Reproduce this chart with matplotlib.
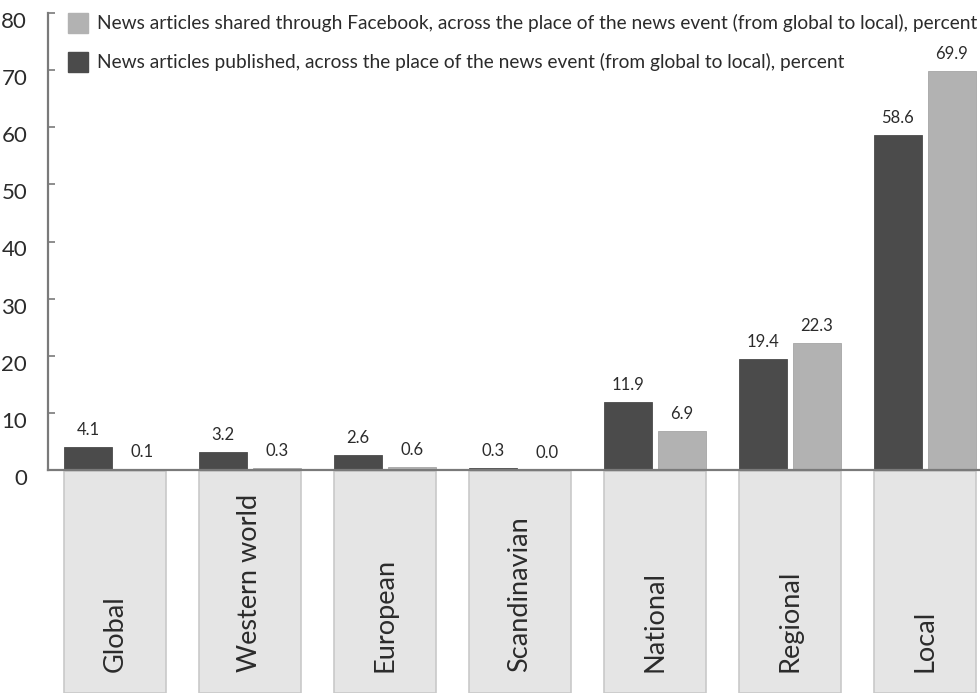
import matplotlib
matplotlib.use("Agg")
import matplotlib.pyplot as plt
from matplotlib.patches import Rectangle
from matplotlib.transforms import blended_transform_factory, ScaledTranslation
import numpy as np

plt.rcParams['font.family'] = ['Lato', 'DejaVu Sans']

categories = ["Global", "Western world", "European", "Scandinavian", "National", "Regional", "Local"]
published = [4.1, 3.2, 2.6, 0.3, 11.9, 19.4, 58.6]
shared = [0.1, 0.3, 0.6, 0.0, 6.9, 22.3, 69.9]
yticks = [0, 10, 20, 30, 40, 50, 60, 70, 80]
label_published = "News articles published, across the place of the news event (from global to local), percent"
label_shared = "News articles shared through Facebook, across the place of the news event (from global to local), percent"

DARK = "#4b4b4b"
LIGHT = "#b2b2b2"
AXIS = "#7a7a7a"
TEXT = "#2b2b2b"

W, H = 980, 693
fig = plt.figure(figsize=(W / 100, H / 100), dpi=100)
ax = fig.add_axes([48 / W, (H - 470) / H, (W - 48) / W, (470 - 13) / H])

x = np.arange(len(categories))
bw = 0.356
off = 0.2
ax.bar(x - off, published, width=bw, color=DARK, edgecolor=DARK, linewidth=0.6, zorder=3)
ax.bar(x + off, shared, width=bw, color=LIGHT, edgecolor="#a5a5a5", linewidth=0.6, zorder=3)

for xi, v in zip(x - off, published):
    ax.annotate(f"{v:.1f}", (xi, v), xytext=(0, 6.5), textcoords="offset points",
                ha="center", va="bottom", fontsize=12, color=TEXT)
for xi, v in zip(x + off, shared):
    ax.annotate(f"{v:.1f}", (xi, v), xytext=(0, 6.5), textcoords="offset points",
                ha="center", va="bottom", fontsize=12, color=TEXT)

ax.set_xlim(-0.496, 6.41)
ax.set_ylim(0, 80)
ax.set_yticks(yticks)
ax.set_xticks([])
for s in ["top", "right"]:
    ax.spines[s].set_visible(False)
for s in ["left", "bottom"]:
    ax.spines[s].set_color(AXIS)
    ax.spines[s].set_linewidth(1.6)
ax.spines["bottom"].set_zorder(4)
ax.tick_params(axis="y", direction="in", length=5, width=1.2, color=AXIS,
               labelsize=16, labelcolor=TEXT, pad=15)
shift = ScaledTranslation(0, -7 / 100, fig.dpi_scale_trans)
for lab in ax.get_yticklabels():
    lab.set_transform(lab.get_transform() + shift)

# grey category boxes hanging below the baseline
trans = blended_transform_factory(ax.transData, fig.transFigure)
box_w = 0.756
for xi, name in zip(x, categories):
    ax.add_patch(Rectangle((xi - box_w / 2, 0), box_w, (H - 471) / H, transform=trans,
                           facecolor="#e5e5e5", edgecolor="#c9c9c9", linewidth=1.2,
                           clip_on=False, zorder=1))
    ax.text(xi, 21 / H, name, transform=trans, rotation=90, ha="center", va="bottom",
            fontsize=19.5, color=TEXT, clip_on=False)

# legend
renderer = fig.canvas.get_renderer()
for row, (lab, col) in enumerate([(label_shared, LIGHT), (label_published, DARK)]):
    ytop = 13 + row * 39
    fig.patches.append(Rectangle((68 / W, (H - ytop - 20) / H), 20 / W, 20 / H,
                                 transform=fig.transFigure, facecolor=col, edgecolor=col,
                                 figure=fig))
    t = fig.text(97 / W, (H - ytop - 10) / H, lab, ha="left", va="center",
                 fontsize=13, color=TEXT)
    if row == 0:
        width = t.get_window_extent(renderer).width
        size = 13 * 880 / width
    t.set_fontsize(size)

fig.savefig("out.png", dpi=100)
